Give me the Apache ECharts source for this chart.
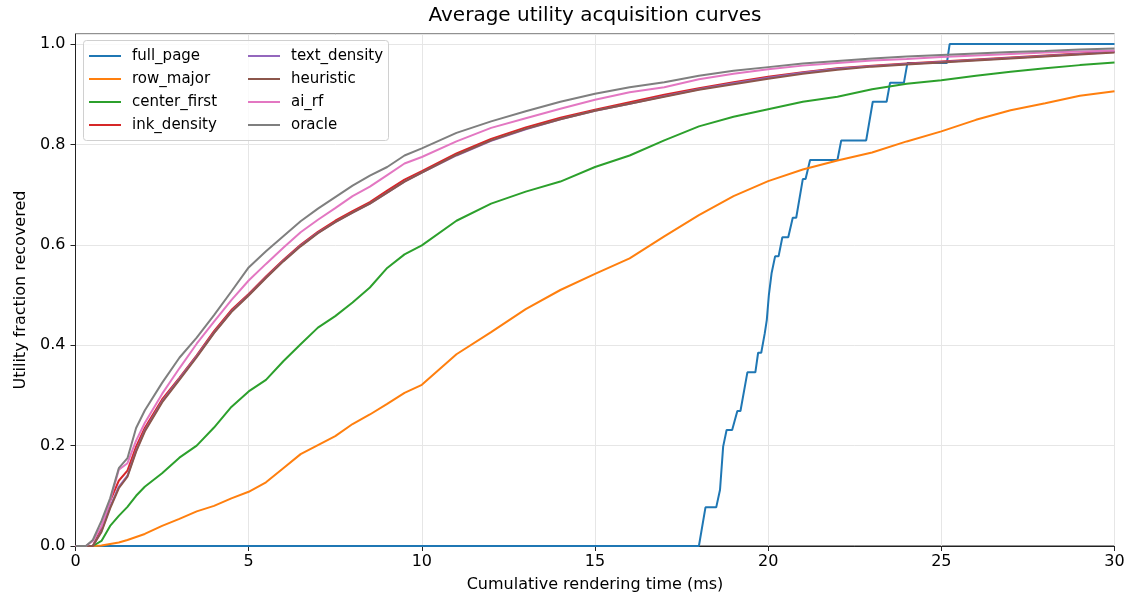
<!DOCTYPE html>
<html>
<head>
<meta charset="utf-8">
<script src="https://cdn.jsdelivr.net/npm/echarts@6/dist/echarts.min.js"></script>
<style>
  html, body { margin: 0; padding: 0; background: #fff; }
  #chart { width: 1129px; height: 600px; }
</style>
</head>
<body>
<div id="chart"></div>
<script>
// time grid (ms) shared by the smooth curves
var t = [0, 0.3, 0.5, 0.75, 1, 1.25, 1.5, 1.75, 2, 2.5, 3, 3.5, 4, 4.5, 5, 5.5, 6, 6.5, 7, 7.5, 8, 8.5, 9, 9.5, 10,
    11, 12, 13, 14, 15, 16, 17, 18, 19, 20, 21, 22, 23, 24, 25, 26, 27, 28, 29, 30];

var rowMajor = [0, 0, 0, 0.001, 0.004, 0.007, 0.012, 0.018, 0.024, 0.04, 0.054, 0.069, 0.08, 0.095, 0.108, 0.127, 0.155, 0.183, 0.201, 0.219, 0.243, 0.262, 0.283, 0.305, 0.321,
    0.382, 0.426, 0.472, 0.51, 0.542, 0.573, 0.617, 0.659, 0.697, 0.727, 0.75, 0.768, 0.784, 0.806, 0.826, 0.849, 0.868, 0.882, 0.897, 0.906];
var centerFirst = [0, 0, 0, 0.01, 0.04, 0.06, 0.078, 0.1, 0.118, 0.145, 0.176, 0.2, 0.236, 0.277, 0.308, 0.331, 0.368, 0.402, 0.435, 0.458, 0.485, 0.515, 0.554, 0.581, 0.599,
    0.648, 0.682, 0.706, 0.726, 0.755, 0.778, 0.808, 0.836, 0.855, 0.87, 0.885, 0.895, 0.91, 0.921, 0.928, 0.937, 0.945, 0.952, 0.958, 0.963];
var inkDensity = [0, 0, 0, 0.035, 0.09, 0.13, 0.15, 0.198, 0.235, 0.292, 0.335, 0.38, 0.428, 0.47, 0.502, 0.537, 0.57, 0.6, 0.626, 0.648, 0.667, 0.685, 0.708, 0.73, 0.747,
    0.782, 0.811, 0.834, 0.853, 0.869, 0.884, 0.899, 0.912, 0.924, 0.935, 0.944, 0.952, 0.957, 0.961, 0.965, 0.969, 0.973, 0.977, 0.981, 0.985];
var textDensity = [0, 0, 0, 0.03, 0.078, 0.118, 0.14, 0.19, 0.23, 0.288, 0.333, 0.378, 0.425, 0.467, 0.5, 0.535, 0.568, 0.598, 0.624, 0.645, 0.664, 0.682, 0.704, 0.726, 0.744,
    0.778, 0.807, 0.83, 0.85, 0.867, 0.881, 0.896, 0.91, 0.922, 0.933, 0.943, 0.951, 0.956, 0.96, 0.964, 0.968, 0.972, 0.976, 0.98, 0.984];
var heuristic = [0, 0, 0, 0.028, 0.075, 0.115, 0.138, 0.188, 0.228, 0.286, 0.331, 0.376, 0.424, 0.466, 0.499, 0.534, 0.567, 0.597, 0.623, 0.645, 0.664, 0.682, 0.704, 0.726, 0.744,
    0.779, 0.808, 0.831, 0.85, 0.867, 0.881, 0.895, 0.909, 0.92, 0.931, 0.941, 0.949, 0.955, 0.959, 0.963, 0.967, 0.971, 0.975, 0.979, 0.983];
var aiRf = [0, 0, 0.01, 0.04, 0.09, 0.152, 0.165, 0.21, 0.245, 0.303, 0.354, 0.403, 0.447, 0.49, 0.529, 0.562, 0.594, 0.625, 0.65, 0.673, 0.697, 0.716, 0.739, 0.762, 0.775,
    0.806, 0.833, 0.852, 0.871, 0.889, 0.904, 0.914, 0.93, 0.941, 0.95, 0.957, 0.962, 0.967, 0.97, 0.974, 0.977, 0.98, 0.983, 0.985, 0.987];
var oracle = [0, 0, 0.012, 0.05, 0.095, 0.155, 0.175, 0.235, 0.27, 0.325, 0.375, 0.415, 0.46, 0.507, 0.555, 0.587, 0.617, 0.647, 0.672, 0.695, 0.718, 0.738, 0.755, 0.778, 0.792,
    0.823, 0.846, 0.866, 0.885, 0.901, 0.914, 0.924, 0.937, 0.947, 0.954, 0.961, 0.966, 0.971, 0.975, 0.978, 0.981, 0.984, 0.986, 0.989, 0.991];

// full_page jumps in steps, own time points
var fullPageT = [0, 18.0, 18.19, 18.5, 18.61, 18.7, 18.8, 18.96, 19.11, 19.2, 19.4, 19.63, 19.71, 19.8, 19.9, 19.96, 20.02, 20.1, 20.2, 20.3, 20.41, 20.58, 20.71, 20.81,
    21.0, 21.08, 21.21, 22.0, 22.11, 22.83, 23.02, 23.42, 23.52, 23.92, 24.02, 25.16, 25.24, 30];
var fullPageY = [0, 0, 0.077, 0.077, 0.112, 0.198, 0.231, 0.231, 0.269, 0.269, 0.346, 0.346, 0.385, 0.385, 0.423, 0.45, 0.5, 0.544, 0.577, 0.577, 0.615, 0.615, 0.654, 0.654,
    0.731, 0.731, 0.769, 0.769, 0.808, 0.808, 0.885, 0.885, 0.923, 0.923, 0.962, 0.962, 1.0, 1.0];

var xTicks = [0, 5, 10, 15, 20, 25, 30];
var yTicks = [0, 0.2, 0.4, 0.6, 0.8, 1.0];

var names = ['full_page', 'row_major', 'center_first', 'ink_density', 'text_density', 'heuristic', 'ai_rf', 'oracle'];
var colors = ['#1f77b4', '#ff7f0e', '#2ca02c', '#d62728', '#9467bd', '#8c564b', '#e377c2', '#7f7f7f'];

function zip(xs, ys) {
    var out = [];
    for (var i = 0; i < xs.length; i++) {
        out.push([xs[i], ys[i]]);
    }
    return out;
}

var seriesData = [
    zip(fullPageT, fullPageY),
    zip(t, rowMajor),
    zip(t, centerFirst),
    zip(t, inkDensity),
    zip(t, textDensity),
    zip(t, heuristic),
    zip(t, aiRf),
    zip(t, oracle)
];

var font = 'DejaVu Sans';
var series = [];
for (var i = 0; i < names.length; i++) {
    series.push({
        name: names[i],
        type: 'line',
        data: seriesData[i],
        symbol: 'none',
        smooth: false,
        animation: false,
        lineStyle: { width: 2, color: colors[i] },
        itemStyle: { color: colors[i] },
        z: 2 + i
    });
}

// two stacked legends give the two-column layout
var legendCommon = {
    orient: 'vertical',
    top: 47.5,
    padding: 0,
    itemGap: 6,
    itemWidth: 32,
    itemHeight: 14,
    itemStyle: { opacity: 0 },
    lineStyle: { width: 2 },
    textStyle: { fontFamily: font, fontSize: 15, color: '#000', lineHeight: 17, padding: [0, 0, 0, 6] }
};

var option = {
    backgroundColor: '#fff',
    animation: false,
    title: {
        text: 'Average utility acquisition curves',
        left: 595,
        top: 6,
        textAlign: 'center',
        padding: 0,
        textStyle: { fontFamily: font, fontSize: 20, fontWeight: 'normal', color: '#000' }
    },
    legend: [
        Object.assign({ left: 88, data: names.slice(0, 4) }, legendCommon),
        Object.assign({ left: 247, data: names.slice(4) }, legendCommon)
    ],
    graphic: [{
        type: 'rect',
        shape: { x: 83.5, y: 40.5, width: 305, height: 100, r: 3 },
        style: { fill: 'rgba(255,255,255,0.8)', stroke: '#d0d0d0', lineWidth: 1 },
        z: 1
    }],
    grid: {
        left: 75.5,
        right: 14.5,
        top: 34,
        bottom: 54,
        show: true,
        borderColor: '#222',
        borderWidth: 1,
        backgroundColor: 'transparent'
    },
    xAxis: {
        type: 'value',
        min: xTicks[0],
        max: xTicks[xTicks.length - 1],
        interval: xTicks[1] - xTicks[0],
        name: 'Cumulative rendering time (ms)',
        nameLocation: 'middle',
        nameGap: 31,
        nameTextStyle: { fontFamily: font, fontSize: 16, color: '#000' },
        axisLine: { lineStyle: { color: '#222', width: 1 } },
        axisTick: { show: true, length: 5, lineStyle: { color: '#222' } },
        axisLabel: { fontFamily: font, fontSize: 16, color: '#000', margin: 8 },
        splitLine: { show: true, lineStyle: { color: '#e6e6e6', width: 1 } }
    },
    yAxis: {
        type: 'value',
        min: yTicks[0],
        max: 1.02,
        interval: yTicks[1] - yTicks[0],
        name: 'Utility fraction recovered',
        nameLocation: 'middle',
        nameGap: 46,
        nameTextStyle: { fontFamily: font, fontSize: 16, color: '#000' },
        axisLine: { show: true, lineStyle: { color: '#222', width: 1 } },
        axisTick: { show: true, length: 5, lineStyle: { color: '#222' } },
        axisLabel: {
            fontFamily: font, fontSize: 16, color: '#000', margin: 10,
            showMaxLabel: false,
            formatter: function (v) { return v.toFixed(1); }
        },
        splitLine: { show: true, lineStyle: { color: '#e6e6e6', width: 1 } }
    },
    series: series
};

var chart = echarts.init(document.getElementById('chart'), null, { renderer: 'canvas' });
chart.setOption(option);
</script>
</body>
</html>
